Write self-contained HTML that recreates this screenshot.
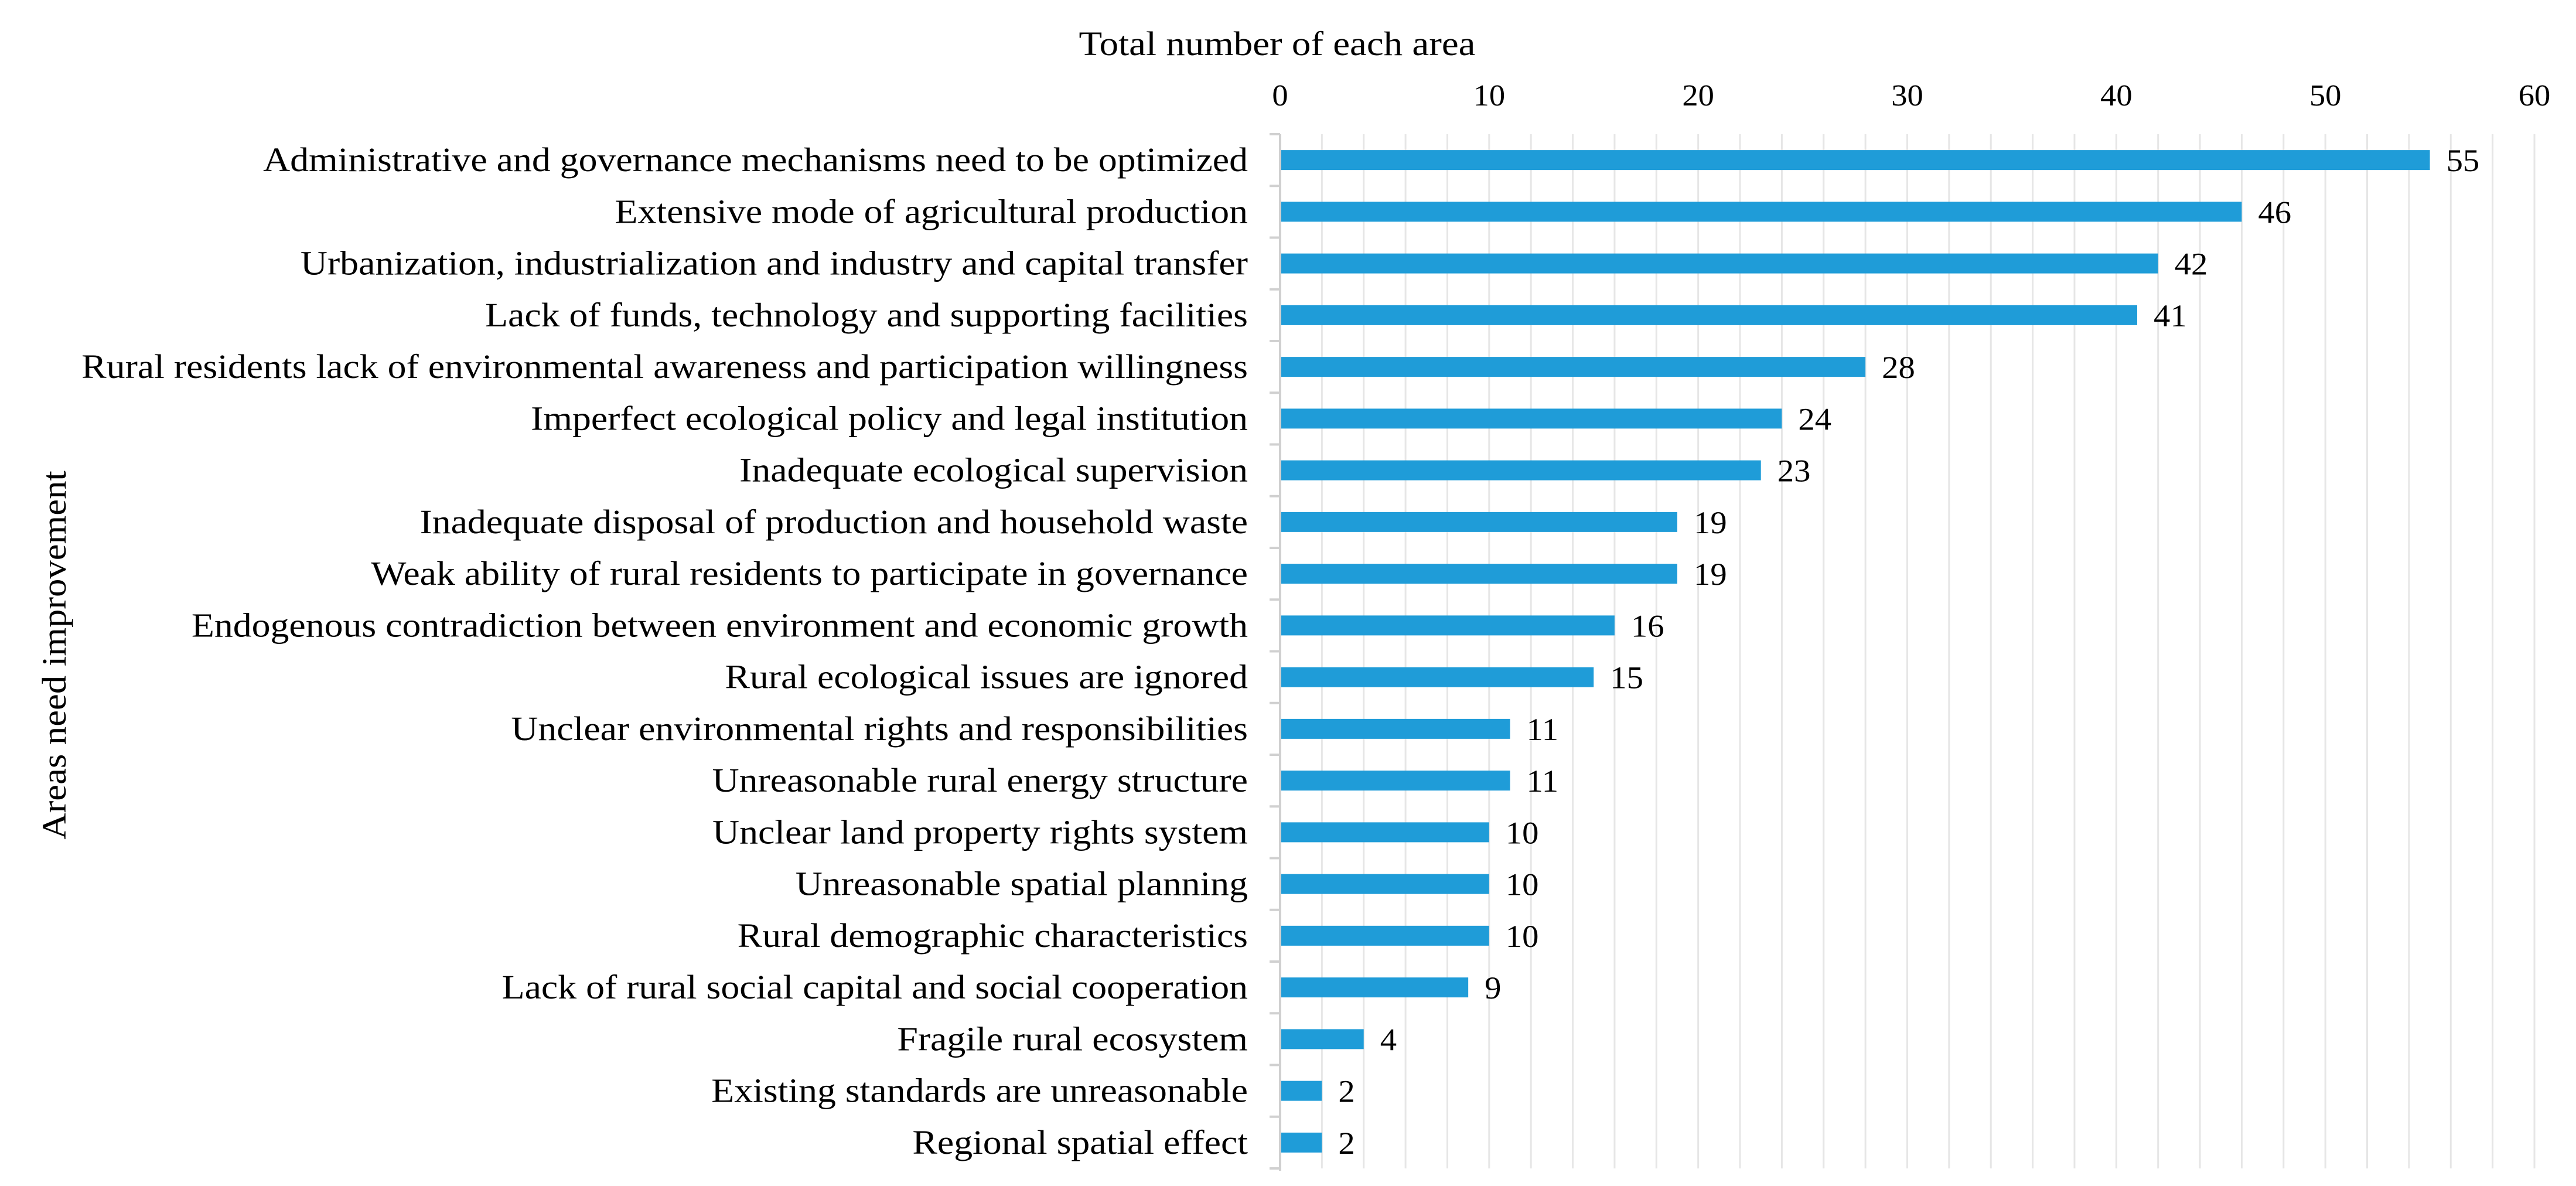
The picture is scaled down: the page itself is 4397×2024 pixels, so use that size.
<!DOCTYPE html>
<html><head><meta charset="utf-8"><style>
html,body{margin:0;padding:0;background:#fff;}
svg text{font-family:"Liberation Serif",serif;fill:#000;}
</style></head><body>
<svg id="chart" width="4397" height="2019" viewBox="0 0 4397 2019" xmlns="http://www.w3.org/2000/svg">
<text transform="translate(2180,94) scale(1.12,1)" font-size="58" text-anchor="middle">Total number of each area</text>
<text transform="translate(112,1118) rotate(-90) scale(1.08,1)" font-size="58" text-anchor="middle">Areas need improvement</text>
<g id="grid"></g><g id="bars"></g><g id="labels"></g>
</svg>
<script>
const categories=["Administrative and governance mechanisms need to be optimized","Extensive mode of agricultural production","Urbanization, industrialization and industry and capital transfer","Lack of funds, technology and supporting facilities","Rural residents lack of environmental awareness and participation willingness","Imperfect ecological policy and legal institution","Inadequate ecological supervision","Inadequate disposal of production and household waste","Weak ability of rural residents to participate in governance","Endogenous contradiction between environment and economic growth","Rural ecological issues are ignored","Unclear environmental rights and responsibilities","Unreasonable rural energy structure","Unclear land property rights system","Unreasonable spatial planning","Rural demographic characteristics","Lack of rural social capital and social cooperation","Fragile rural ecosystem","Existing standards are unreasonable","Regional spatial effect"];
const values=[55,46,42,41,28,24,23,19,19,16,15,11,11,10,10,10,9,4,2,2];
const xTicks=[0,10,20,30,40,50,60];
{
const ns="http://www.w3.org/2000/svg";
const plotLeft=2185,plotRight=4326,plotTop=229,plotBottom=1994;
const xs=v=>plotLeft+(plotRight-plotLeft)*v/60;
const band=(plotBottom-plotTop)/categories.length;
const ys=i=>plotTop+band*i;
const grid=document.getElementById('grid'),bars=document.getElementById('bars'),labels=document.getElementById('labels');
function mk(tag,attrs,parent){const e=document.createElementNS(ns,tag);for(const k in attrs)e.setAttribute(k,attrs[k]);parent.appendChild(e);return e;}
for(let v=2;v<=60;v+=2){
  const l=mk('line',{x1:xs(v),x2:xs(v),y1:plotTop,y2:plotBottom,stroke:'#e6e6e6','stroke-width':3},grid);
  
  
}
const ax=mk('line',{x1:plotLeft,x2:plotLeft,y1:plotTop,y2:plotBottom+4,stroke:'#d0d0d0','stroke-width':4},grid);


for(let i=0;i<=categories.length;i++){
  const t=mk('line',{x1:plotLeft-18,x2:plotLeft,y1:ys(i),y2:ys(i),stroke:'#d0d0d0','stroke-width':4},grid);
  
  
}
xTicks.forEach(v=>{
  const t=mk('text',{transform:'translate('+xs(v)+',180) scale(1.05,1)','font-size':52,'text-anchor':'middle'},labels);
  t.textContent=v;
  
  
});
categories.forEach((c,i)=>{
  const cy=ys(i)+band/2;
  const r=mk('rect',{x:plotLeft+2,y:cy-17,width:xs(values[i])-plotLeft-2,height:34,fill:'#1f9cd8'},bars);
  
  
  const t=mk('text',{transform:'translate('+(plotLeft-55)+','+(cy+19)+') scale(1.1,1)','font-size':58,'text-anchor':'end'},labels);
  t.textContent=c;
  
  
  const v=mk('text',{transform:'translate('+(xs(values[i])+28)+','+(cy+19)+') scale(1.05,1)','font-size':54},labels);
  v.textContent=values[i];
  
  
});
}
</script>
</body></html>
